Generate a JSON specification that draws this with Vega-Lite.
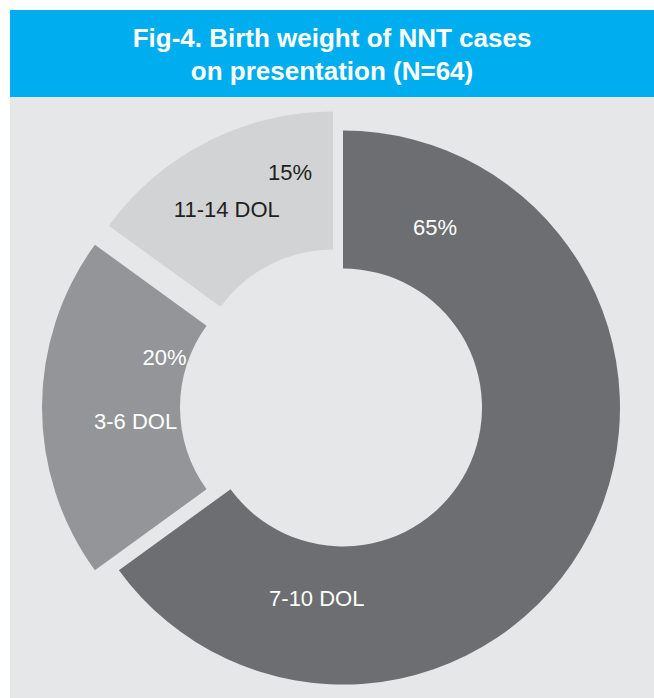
{
  "$schema": "https://vega.github.io/schema/vega-lite/v6.json",
  "background": "white",
  "padding": {"left": 10, "top": 10, "right": 0, "bottom": 0},
  "spacing": 0,
  "config": {"view": {"stroke": null}, "font": "Liberation Sans", "concat": {"spacing": 0}},
  "datasets": {
    "slices": [
      {"onset": "7-10 DOL", "share": 0.65},
      {"onset": "3-6 DOL", "share": 0.20},
      {"onset": "11-14 DOL", "share": 0.15}
    ]
  },
  "vconcat": [
    {
      "width": 644,
      "height": 87,
      "view": {"fill": "#00AEEF", "stroke": null},
      "data": {"values": [{}]},
      "mark": {
        "type": "text",
        "text": ["Fig-4. Birth weight of NNT cases", "on presentation (N=64)"],
        "font": "Liberation Sans",
        "fontWeight": "bold",
        "fontSize": 26,
        "color": "white",
        "lineHeight": 33,
        "align": "center",
        "baseline": "alphabetic",
        "dx": 0,
        "dy": -7
      },
      "encoding": {}
    },
    {
      "width": 644,
      "height": 601,
      "view": {"fill": "#E6E7E8", "stroke": null},
      "data": {"name": "slices"},
      "transform": [
        {"stack": "share", "groupby": [], "sort": [{"field": "share", "order": "descending"}], "as": ["t0", "t1"]}
      ],
      "layer": [
        {
          "transform": [{"filter": "datum.onset === '7-10 DOL'"}],
          "mark": {"type": "arc", "innerRadius": 139, "outerRadius": 277, "xOffset": 11, "yOffset": 10, "color": "#6D6E71"},
          "encoding": {
            "theta": {"field": "t0", "type": "quantitative", "stack": null, "scale": {"domain": [0, 1]}},
            "theta2": {"field": "t1"}
          }
        },
        {
          "transform": [{"filter": "datum.onset === '3-6 DOL'"}],
          "mark": {"type": "arc", "innerRadius": 139, "outerRadius": 277, "xOffset": -13, "yOffset": 10, "color": "#939598"},
          "encoding": {
            "theta": {"field": "t0", "type": "quantitative", "stack": null, "scale": {"domain": [0, 1]}},
            "theta2": {"field": "t1"}
          }
        },
        {
          "transform": [{"filter": "datum.onset === '11-14 DOL'"}],
          "mark": {"type": "arc", "innerRadius": 139, "outerRadius": 277, "xOffset": 1, "yOffset": -9, "color": "#D1D3D4"},
          "encoding": {
            "theta": {"field": "t0", "type": "quantitative", "stack": null, "scale": {"domain": [0, 1]}},
            "theta2": {"field": "t1"}
          }
        },
        {
          "transform": [{"filter": "datum.onset === '7-10 DOL'"}],
          "mark": {"type": "text", "radius": 202, "thetaOffset": 0.4725, "xOffset": 11, "yOffset": 10, "fontSize": 22, "color": "white", "align": "center", "baseline": "middle"},
          "encoding": {
            "theta": {"field": "t0", "type": "quantitative", "stack": null},
            "text": {"field": "share", "type": "quantitative", "format": ".0%"}
          }
        },
        {
          "transform": [{"filter": "datum.onset === '7-10 DOL'"}],
          "mark": {"type": "text", "radius": 193, "thetaOffset": 3.278, "xOffset": 11, "yOffset": 10, "fontSize": 22, "color": "white", "align": "center", "baseline": "middle"},
          "encoding": {
            "theta": {"field": "t0", "type": "quantitative", "stack": null},
            "text": {"field": "onset", "type": "nominal"}
          }
        },
        {
          "transform": [{"filter": "datum.onset === '3-6 DOL'"}],
          "mark": {"type": "text", "radius": 162, "thetaOffset": 0.9364, "xOffset": -13, "yOffset": 10, "fontSize": 22, "color": "white", "align": "center", "baseline": "middle"},
          "encoding": {
            "theta": {"field": "t0", "type": "quantitative", "stack": null},
            "text": {"field": "share", "type": "quantitative", "format": ".0%"}
          }
        },
        {
          "transform": [{"filter": "datum.onset === '3-6 DOL'"}],
          "mark": {"type": "text", "radius": 184, "thetaOffset": 0.5469, "xOffset": -13, "yOffset": 10, "fontSize": 22, "color": "white", "align": "center", "baseline": "middle"},
          "encoding": {
            "theta": {"field": "t0", "type": "quantitative", "stack": null},
            "text": {"field": "onset", "type": "nominal"}
          }
        },
        {
          "transform": [{"filter": "datum.onset === '11-14 DOL'"}],
          "mark": {"type": "text", "radius": 220, "thetaOffset": 0.746, "xOffset": 1, "yOffset": -9, "fontSize": 22, "color": "#231F20", "align": "center", "baseline": "middle"},
          "encoding": {
            "theta": {"field": "t0", "type": "quantitative", "stack": null},
            "text": {"field": "share", "type": "quantitative", "format": ".0%"}
          }
        },
        {
          "transform": [{"filter": "datum.onset === '11-14 DOL'"}],
          "mark": {"type": "text", "radius": 208, "thetaOffset": 0.4067, "xOffset": 1, "yOffset": -9, "fontSize": 22, "color": "#231F20", "align": "center", "baseline": "middle"},
          "encoding": {
            "theta": {"field": "t0", "type": "quantitative", "stack": null},
            "text": {"field": "onset", "type": "nominal"}
          }
        }
      ]
    }
  ]
}
